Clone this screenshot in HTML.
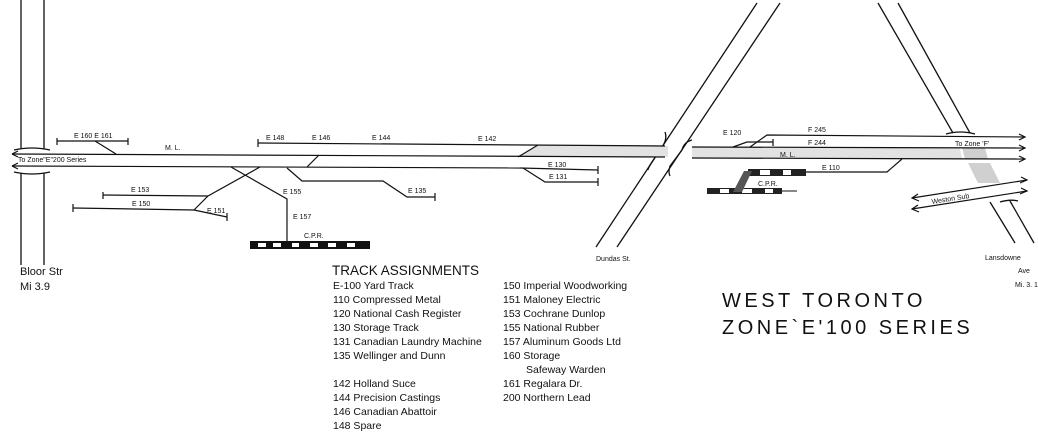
<!DOCTYPE html>
<html><head><meta charset="utf-8"><style>
html,body{margin:0;padding:0;background:#fff;}
svg{display:block;}
.t{font-family:"Liberation Sans",sans-serif;fill:#111;}
.s{font-family:"Liberation Sans",sans-serif;font-size:7px;fill:#111;}
</style></head><body>
<svg width="1038" height="434" viewBox="0 0 1038 434" xmlns="http://www.w3.org/2000/svg">
<g stroke="#111" stroke-width="1.3" fill="none">
<line x1="21" y1="0" x2="21" y2="149"/><line x1="44" y1="0" x2="44" y2="149"/>
<line x1="21" y1="173" x2="21" y2="265"/><line x1="44" y1="173" x2="44" y2="265"/>
<path d="M14 150 Q32 146 50 150 M14 172 Q32 176 50 172"/>
<line x1="757" y1="3" x2="596" y2="247"/><line x1="780" y1="3" x2="617" y2="247"/>
<path d="M665 132 Q668 140 660 150 L652 162 Q648 168 648 170"/>
<path d="M692 140 Q684 142 682 150 L670 166 Q668 172 670 176"/>
<line x1="878" y1="3" x2="953" y2="133"/><line x1="898" y1="3" x2="970" y2="133"/>
<line x1="990" y1="202" x2="1015" y2="243"/><line x1="1010" y1="201" x2="1034" y2="243"/>
<path d="M946 134 Q960 130 975 134"/>
<path d="M1000 202 Q1010 199 1018 201"/>
</g>
<polygon points="518,157 538,145 668,146 668,157" fill="#e2e2e2"/>
<polygon points="692,147 960,148 962,159 692,158" fill="#e2e2e2"/>
<polygon points="962,148 985,148 988,159 965,159" fill="#d0d0d0"/>
<polygon points="968,163 990,163 1000,183 978,183" fill="#d0d0d0"/>
<g stroke="#111" stroke-width="1.2" fill="none">
<line x1="12" y1="154" x2="665" y2="157"/>
<line x1="12" y1="166" x2="520" y2="168"/>
<path d="M12 154 l6 -3 M12 154 l6 3 M12 166 l6 -3 M12 166 l6 3"/>
<line x1="258" y1="143" x2="665" y2="146"/><line x1="258" y1="139" x2="258" y2="147"/>
<line x1="518" y1="157" x2="538" y2="145"/>
<line x1="57" y1="141" x2="128" y2="141"/><line x1="57" y1="138" x2="57" y2="145"/><line x1="128" y1="138" x2="128" y2="145"/>
<line x1="95" y1="141" x2="116" y2="154"/>
<line x1="307" y1="167" x2="319" y2="155"/>
<path d="M231 167 L287 199 L287 245"/>
<path d="M260 167 L208 196 L194 210"/>
<path d="M287 168 L302 181 L383 181 L407 197 L435 197"/><line x1="435" y1="193" x2="435" y2="201"/>
<line x1="103" y1="195" x2="208" y2="196"/><line x1="103" y1="192" x2="103" y2="199"/>
<path d="M73 208 L194 210 L227 217"/><line x1="73" y1="204" x2="73" y2="212"/><line x1="227" y1="213" x2="227" y2="221"/>
<line x1="520" y1="168" x2="598" y2="170"/><line x1="598" y1="166" x2="598" y2="174"/>
<path d="M523 168 L545 182 L598 182"/><line x1="598" y1="178" x2="598" y2="186"/>
<line x1="692" y1="147" x2="1025" y2="148"/>
<line x1="692" y1="158" x2="1025" y2="159"/>
<path d="M733 147 L747 142 L773 142"/><line x1="773" y1="139" x2="773" y2="146"/>
<path d="M750 147 L767 135 L1025 137"/>
<path d="M1019 134 l6 3 l-6 3 M1019 145 l6 3 l-6 3 M1019 156 l6 3 l-6 3"/>
<path d="M806 172 L887 172 L902 159"/>
<line x1="912" y1="198" x2="1027" y2="180"/><line x1="912" y1="209" x2="1027" y2="191"/>
<path d="M918 194 l-6 4 l7 3 M918 205 l-6 4 l7 3 M1021 177 l6 3 l-7 3 M1021 188 l6 3 l-7 3"/>
</g>
<g>
<rect x="250" y="241" width="120" height="8" fill="#111"/>
<g fill="#fff"><rect x="258" y="243" width="8" height="4"/><rect x="273" y="243" width="8" height="4"/><rect x="292" y="243" width="7" height="4"/><rect x="310" y="243" width="8" height="4"/><rect x="328" y="243" width="8" height="4"/><rect x="347" y="243" width="8" height="4"/></g>
<rect x="748" y="169" width="58" height="7" fill="#222"/>
<g fill="#fff"><rect x="760" y="170" width="10" height="5"/><rect x="783" y="170" width="8" height="5"/></g>
<rect x="707" y="188" width="75" height="6" fill="#222"/>
<g fill="#fff"><rect x="720" y="189" width="9" height="4"/><rect x="742" y="189" width="10" height="4"/><rect x="765" y="189" width="8" height="4"/></g>
<line x1="782" y1="191" x2="797" y2="191" stroke="#111"/>
<polygon points="744,171 752,171 742,192 733,192" fill="#555"/>
</g>
<text class="s" x="74" y="138">E 160  E 161</text>
<text class="s" x="165" y="150">M. L.</text>
<text class="s" x="18" y="162">To Zone"E"200 Series</text>
<text class="s" x="266" y="140">E 148</text>
<text class="s" x="312" y="140">E 146</text>
<text class="s" x="372" y="140">E 144</text>
<text class="s" x="478" y="141">E 142</text>
<text class="s" x="548" y="167">E 130</text>
<text class="s" x="549" y="179">E 131</text>
<text class="s" x="408" y="193">E 135</text>
<text class="s" x="131" y="192">E 153</text>
<text class="s" x="132" y="206">E 150</text>
<text class="s" x="207" y="213">E 151</text>
<text class="s" x="283" y="194">E 155</text>
<text class="s" x="293" y="219">E 157</text>
<text class="s" x="304" y="238">C.P.R.</text>
<text class="s" x="723" y="135">E 120</text>
<text class="s" x="808" y="132">F 245</text>
<text class="s" x="808" y="145">F 244</text>
<text class="s" x="780" y="157">M. L.</text>
<text class="s" x="822" y="170">E 110</text>
<text class="s" x="758" y="186">C.P.R.</text>
<text class="s" x="955" y="146">To  Zone 'F'</text>
<text class="s" x="932" y="204" transform="rotate(-9 932 204)">Weston Sub</text>
<text class="s" x="596" y="261">Dundas St.</text>
<text class="s" x="985" y="260">Lansdowne</text>
<text class="s" x="1018" y="273">Ave</text>
<text class="s" x="1015" y="287">Mi. 3. 1</text>
<text class="t" x="20" y="275" font-size="11">Bloor Str</text>
<text class="t" x="20" y="290" font-size="11">Mi 3.9</text>
<text class="t" x="332" y="275" font-size="13.5">TRACK ASSIGNMENTS</text>
<g class="t" font-size="10.5">
<text x="333" y="289">E-100  Yard Track</text>
<text x="333" y="303">110  Compressed Metal</text>
<text x="333" y="317">120  National Cash Register</text>
<text x="333" y="331">130  Storage Track</text>
<text x="333" y="345">131  Canadian Laundry Machine</text>
<text x="333" y="359">135  Wellinger and Dunn</text>
<text x="333" y="387">142  Holland Suce</text>
<text x="333" y="401">144  Precision Castings</text>
<text x="333" y="415">146  Canadian Abattoir</text>
<text x="333" y="429">148  Spare</text>
<text x="503" y="289">150  Imperial Woodworking</text>
<text x="503" y="303">151  Maloney Electric</text>
<text x="503" y="317">153  Cochrane Dunlop</text>
<text x="503" y="331">155  National Rubber</text>
<text x="503" y="345">157  Aluminum Goods Ltd</text>
<text x="503" y="359">160 Storage</text>
<text x="526" y="373">Safeway Warden</text>
<text x="503" y="387">161  Regalara Dr.</text>
<text x="503" y="401">200  Northern Lead</text>
</g>
<text class="t" x="722" y="307" font-size="20" letter-spacing="3.5">WEST TORONTO</text>
<text class="t" x="722" y="334" font-size="20" letter-spacing="3.5">ZONE`E'100 SERIES</text>
</svg>
</body></html>
